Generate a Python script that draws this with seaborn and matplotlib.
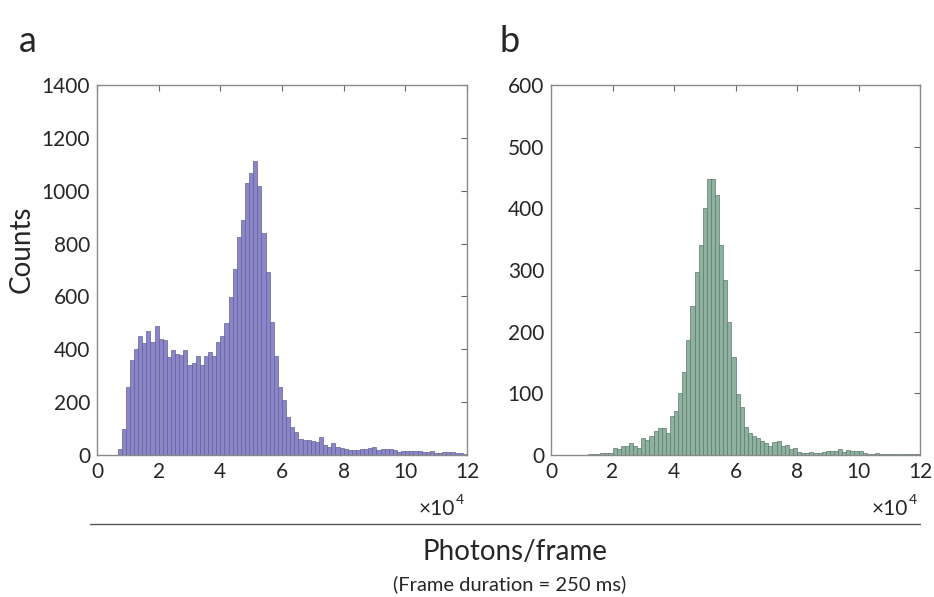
import numpy as np
import pandas as pd
import matplotlib.pyplot as plt
from matplotlib.lines import Line2D
import seaborn as sns

# counts per bin, 90 bins between 0 and 12e4 photons/frame
counts_a = [0, 0, 0, 0, 0,
            21, 100, 258, 361, 400, 449, 424, 469, 428, 489,
            440, 436, 369, 399, 381, 379, 396, 342, 348, 376,
            342, 374, 389, 376, 428, 452, 500, 596, 702, 823,
            889, 1030, 1065, 1113, 1018, 841, 692, 504, 375, 259,
            208, 142, 107, 88, 59, 57, 57, 52, 50, 67,
            38, 29, 47, 32, 26, 24, 19, 19, 19, 21,
            23, 26, 29, 19, 21, 22, 21, 19, 13, 14,
            16, 16, 15, 15, 13, 10, 16, 8, 6, 13,
            12, 10, 6, 6, 5]
counts_b = [0, 0, 0, 0, 0, 0, 0, 0, 0,
            1, 1, 2, 3, 3, 4,
            11, 9, 14, 15, 20, 15, 11, 27, 25, 30,
            39, 44, 43, 35, 64, 71, 100, 135, 186, 242,
            296, 341, 401, 447, 447, 421, 341, 283, 215, 159,
            99, 77, 46, 36, 31, 27, 22, 19, 15, 21,
            22, 15, 16, 9, 11, 5, 4, 4, 5, 4,
            4, 5, 7, 6, 6, 10, 5, 8, 7, 6,
            7, 3, 2, 2, 3, 2, 2, 1, 1, 2,
            1, 2, 1, 1, 1]
x_ticks = [0, 2, 4, 6, 8, 10, 12]
y_ticks_a = [0, 200, 400, 600, 800, 1000, 1200, 1400]
y_ticks_b = [0, 100, 200, 300, 400, 500, 600]

nbins = len(counts_a)
edges = np.linspace(0, 120000, nbins + 1)
centers = (edges[:-1] + edges[1:]) / 2
df = pd.DataFrame({'photons': centers, 'a': counts_a, 'b': counts_b})

sns.set_theme(style='white')
plt.rcParams['font.family'] = ['Lato', 'DejaVu Sans']

fig = plt.figure(figsize=(9.34, 5.97), dpi=100)
ax_a = fig.add_axes([0.1039, 0.2379, 0.396, 0.6198])
ax_b = fig.add_axes([0.5900, 0.2379, 0.395, 0.6198])

panels = [(ax_a, 'a', '#8a86c9', '#626294', y_ticks_a),
          (ax_b, 'b', '#8fb2a0', '#5a7a6a', y_ticks_b)]

for ax, col, face, edge, yt in panels:
    sns.histplot(data=df, x='photons', weights=col, bins=nbins, binrange=(0, 120000),
                 ax=ax, color=face, edgecolor=edge, linewidth=0.5, alpha=1)
    ax.set_xlim(0, 120000)
    ax.set_ylim(yt[0], yt[-1])
    ax.set_xticks([t * 1e4 for t in x_ticks])
    ax.set_xticklabels([str(t) for t in x_ticks])
    ax.set_yticks(yt)
    ax.set_yticklabels([str(t) for t in yt])
    ax.set_xlabel('')
    ax.set_ylabel('')
    ax.tick_params(direction='in', top=True, right=True, length=4, width=0.8,
                   color='#666666', labelsize=15, labelcolor='#262626', pad=5)
    for s in ax.spines.values():
        s.set_color('#8a8a8a')
        s.set_linewidth(1)
    ax.text(0.968, -0.145, '×10', transform=ax.transAxes, ha='right', va='center',
            fontsize=15, color='#262626')
    ax.text(0.969, -0.122, '4', transform=ax.transAxes, ha='left', va='center',
            fontsize=10, color='#262626')

ax_a.set_ylabel('Counts', fontsize=20)
ax_a.yaxis.set_label_coords(-0.17, 0.555)

fig.text(0.030, 0.930, 'a', fontsize=26, ha='center', va='center')
fig.text(0.546, 0.930, 'b', fontsize=26, ha='center', va='center')

fig.add_artist(Line2D([0.096, 0.985], [0.122, 0.122], transform=fig.transFigure,
                      color='#555555', linewidth=1))
fig.text(0.551, 0.076, 'Photons/frame', fontsize=20, ha='center', va='center')
fig.text(0.546, 0.022, '(Frame duration = 250 ms)', fontsize=14.5, ha='center', va='center')

fig.savefig('out.png', dpi=100)
